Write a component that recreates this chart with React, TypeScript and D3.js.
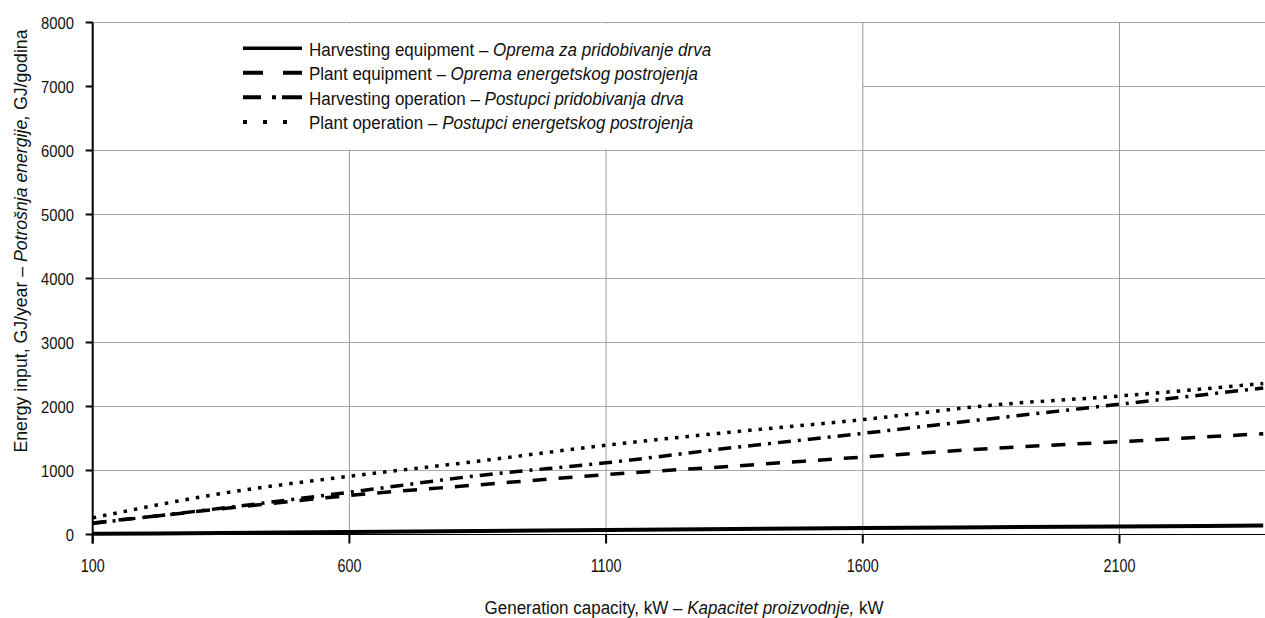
import React from "react";
import * as d3 from "d3";

const capacities = [100, 350, 600, 850, 1100, 1350, 1600, 1850, 2100, 2380];
const harvestingEquipment = [10, 25, 40, 55, 70, 85, 100, 115, 125, 140];
const plantEquipment = [180, 400, 610, 775, 935, 1070, 1210, 1345, 1450, 1575];
const harvestingOperation = [175, 410, 660, 920, 1120, 1360, 1580, 1810, 2035, 2290];
const plantOperation = [260, 640, 910, 1145, 1395, 1605, 1795, 2020, 2164, 2360];

const xTicks = [100, 600, 1100, 1600, 2100];
const yTicks = [0, 1000, 2000, 3000, 4000, 5000, 6000, 7000, 8000];

const legendEn = ["Harvesting equipment", "Plant equipment", "Harvesting operation", "Plant operation"];
const legendHr = ["Oprema za pridobivanje drva", "Oprema energetskog postrojenja", "Postupci pridobivanja drva", "Postupci energetskog postrojenja"];

const FONT = "'Liberation Sans', Arial, sans-serif";

function CText({ x, y, sx = 1, rotate = 0, anchor = "start", size, children }: any) {
  return (
    <g transform={`translate(${x},${y}) rotate(${rotate}) scale(${sx},1)`}>
      <text x={0} y={0} textAnchor={anchor} fontSize={size} fill="#111">{children}</text>
    </g>
  );
}

export default function App() {
  const W = 1265, H = 618;
  const x = d3.scaleLinear().domain([100, 2400]).range([92.7, 1273.5]);
  const y = d3.scaleLinear().domain([0, 8000]).range([534.5, 22.5]);
  const line = d3.line<number>().x((_, i) => x(capacities[i])).y((v) => y(v)).curve(d3.curveMonotoneX);

  const series = [
    { vals: harvestingEquipment, dash: "none", w: 4, legendDash: "none" },
    { vals: plantEquipment, dash: "14,12", w: 3.5, legendDash: "20,20" },
    { vals: harvestingOperation, dash: "13,7,3,7", w: 3.5, legendDash: "18,11,4,6,21" },
    { vals: plantOperation, dash: "3.5,7", w: 3.5, legendDash: "4,16" },
  ];
  const legendBase = [55.7, 80.2, 104.8, 129.4];

  return (
    <svg width={W} height={H} style={{ position: "absolute", left: 0, top: 0, background: "#fff" }} fontFamily={FONT}>
      <rect x={0} y={0} width={W} height={H} fill="#fff" />
      {yTicks.filter((t) => t > 0).map((t) => (
        <line key={"gy" + t} x1={x(100)} x2={W} y1={y(t)} y2={y(t)} stroke="#aaa" strokeWidth={1} />
      ))}
      {xTicks.filter((t) => t > 100).map((t) => (
        <line key={"gx" + t} x1={x(t)} x2={x(t)} y1={y(8000)} y2={y(0)} stroke="#999" strokeWidth={1} />
      ))}
      <rect x={x(100) + 1} y={y(8000) + 1} width={862 - x(100) - 1} height={y(6000) - y(8000) - 2} fill="#fff" />
      {series.map((s, i) => (
        <path key={"s" + i} d={line(s.vals) || ""} fill="none" stroke="#000" strokeWidth={s.w} strokeDasharray={s.dash} />
      ))}
      <line x1={x(100)} x2={x(100)} y1={y(8000)} y2={y(0) + 9} stroke="#000" strokeWidth={2} />
      <line x1={x(100)} x2={W} y1={y(0)} y2={y(0)} stroke="#000" strokeWidth={1} />
      {yTicks.map((t) => (
        <g key={"yt" + t}>
          <line x1={x(100) - 7} x2={x(100)} y1={y(t)} y2={y(t)} stroke="#000" strokeWidth={2} />
          <CText x={74} y={y(t) + 6} sx={0.87} anchor="end" size={17}>{t}</CText>
        </g>
      ))}
      {xTicks.map((t) => (
        <g key={"xt" + t}>
          <line x1={x(t)} x2={x(t)} y1={y(0)} y2={y(0) + 9} stroke="#000" strokeWidth={2} />
          <CText x={x(t)} y={571.5} sx={0.8} anchor="middle" size={18}>{t}</CText>
        </g>
      ))}
      <CText x={684} y={614} sx={0.914} anchor="middle" size={18.6}>
        Generation capacity, kW – <tspan fontStyle="italic">Kapacitet proizvodnje,</tspan> kW
      </CText>
      <CText x={26.5} y={241} rotate={-90} sx={0.95} anchor="middle" size={18.6}>
        Energy input, GJ/year – <tspan fontStyle="italic">Potrošnja energije,</tspan> GJ/godina
      </CText>
      {series.map((s, i) => (
        <g key={"lg" + i}>
          <line x1={243} x2={302} y1={legendBase[i] - 7.5} y2={legendBase[i] - 7.5} stroke="#000" strokeWidth={i === 0 ? 3.5 : 4} strokeDasharray={s.legendDash} />
          <CText x={309} y={legendBase[i]} sx={0.914} size={18.6}>
            {legendEn[i]} – <tspan fontStyle="italic">{legendHr[i]}</tspan>
          </CText>
        </g>
      ))}
    </svg>
  );
}
